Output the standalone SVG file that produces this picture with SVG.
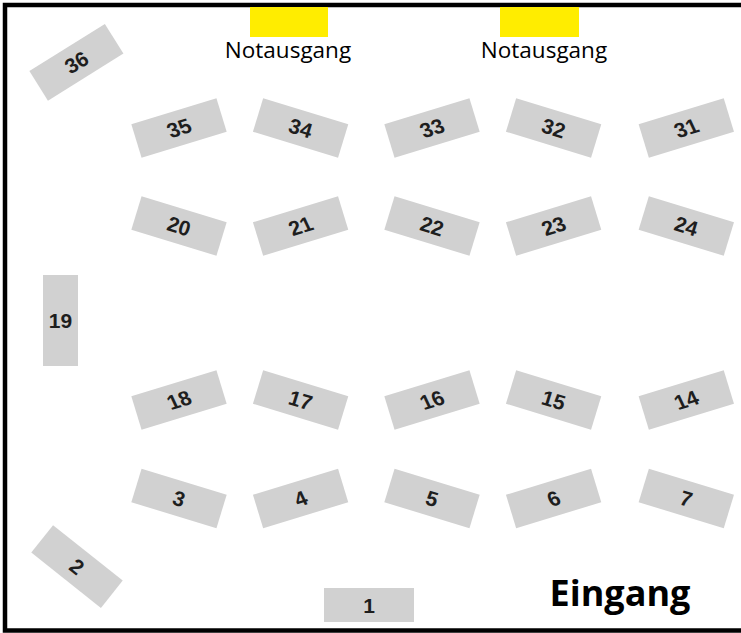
<svg xmlns="http://www.w3.org/2000/svg" width="741" height="633" viewBox="0 0 741 633">
<style>
.tb{fill:#d1d1d1}
.n{font-family:"Liberation Sans",Arial,sans-serif;font-weight:bold;font-size:21px;fill:#1e1e1e;text-anchor:middle}
.exit{fill:#ffed00}
.lbl{font-family:"Open Sans",sans-serif;font-size:22.5px;fill:#000;text-anchor:middle}
.big{font-family:"Open Sans",sans-serif;font-weight:bold;font-size:36px;fill:#000;text-anchor:middle}
</style>
<defs>
<rect id="tbl" class="tb" x="-44.5" y="-17.5" width="89" height="35"/>
</defs>
<rect x="0" y="0" width="741" height="633" fill="#fff"/>
<g id="room">
<rect x="5" y="5" width="760" height="625.5" fill="none" stroke="#000" stroke-width="4.5"/>
</g>
<g id="exits">
<g id="exit1"><rect class="exit" x="250" y="7" width="78" height="30"/><text class="lbl" x="288" y="57.5">Notausgang</text></g>
<g id="exit2"><rect class="exit" x="500" y="7" width="79" height="30"/><text class="lbl" x="544" y="57.5">Notausgang</text></g>
<g id="entrance"><text class="big" x="620" y="606">Eingang</text></g>
</g>
<g id="connectors"></g>
<g id="tables">
<g id="t36" transform="translate(76.4,62.3)"><use href="#tbl" transform="rotate(-32)"/><text class="n" y="7.5" transform="rotate(-32)">36</text></g>
<g id="t35" transform="translate(179,128)"><use href="#tbl" transform="rotate(-17)"/><text class="n" y="7.5" transform="rotate(-17) skewX(8)">35</text></g>
<g id="t34" transform="translate(300.6,128)"><use href="#tbl" transform="rotate(17)"/><text class="n" y="7.5" transform="rotate(17)">34</text></g>
<g id="t33" transform="translate(432,128)"><use href="#tbl" transform="rotate(-17)"/><text class="n" y="7.5" transform="rotate(-17) skewX(8)">33</text></g>
<g id="t32" transform="translate(553.6,128)"><use href="#tbl" transform="rotate(17)"/><text class="n" y="7.5" transform="rotate(17)">32</text></g>
<g id="t31" transform="translate(686.3,128)"><use href="#tbl" transform="rotate(-17)"/><text class="n" y="7.5" transform="rotate(-17) skewX(8)">31</text></g>
<g id="t20" transform="translate(179,226)"><use href="#tbl" transform="rotate(17)"/><text class="n" y="7.5" transform="rotate(17)">20</text></g>
<g id="t21" transform="translate(300.6,226)"><use href="#tbl" transform="rotate(-17)"/><text class="n" y="7.5" transform="rotate(-17) skewX(8)">21</text></g>
<g id="t22" transform="translate(432,226)"><use href="#tbl" transform="rotate(17)"/><text class="n" y="7.5" transform="rotate(17)">22</text></g>
<g id="t23" transform="translate(553.6,226)"><use href="#tbl" transform="rotate(-17)"/><text class="n" y="7.5" transform="rotate(-17) skewX(8)">23</text></g>
<g id="t24" transform="translate(686.3,226)"><use href="#tbl" transform="rotate(17)"/><text class="n" y="7.5" transform="rotate(17)">24</text></g>
<g id="t19" transform="translate(60.5,320.5)"><rect class="tb" x="-17.5" y="-45.5" width="35" height="91"/><text class="n" y="7.5">19</text></g>
<g id="t18" transform="translate(179,400)"><use href="#tbl" transform="rotate(-17)"/><text class="n" y="7.5" transform="rotate(-17) skewX(8)">18</text></g>
<g id="t17" transform="translate(300.6,400)"><use href="#tbl" transform="rotate(17)"/><text class="n" y="7.5" transform="rotate(17)">17</text></g>
<g id="t16" transform="translate(432,400)"><use href="#tbl" transform="rotate(-17)"/><text class="n" y="7.5" transform="rotate(-17) skewX(8)">16</text></g>
<g id="t15" transform="translate(553.6,400)"><use href="#tbl" transform="rotate(17)"/><text class="n" y="7.5" transform="rotate(17)">15</text></g>
<g id="t14" transform="translate(686.3,400)"><use href="#tbl" transform="rotate(-17)"/><text class="n" y="7.5" transform="rotate(-17) skewX(8)">14</text></g>
<g id="t3" transform="translate(179,498.5)"><use href="#tbl" transform="rotate(17)"/><text class="n" y="7.5" transform="rotate(17)">3</text></g>
<g id="t4" transform="translate(300.6,498.5)"><use href="#tbl" transform="rotate(-17)"/><text class="n" y="7.5" transform="rotate(-17) skewX(8)">4</text></g>
<g id="t5" transform="translate(432,498.5)"><use href="#tbl" transform="rotate(17)"/><text class="n" y="7.5" transform="rotate(17)">5</text></g>
<g id="t6" transform="translate(553.6,498.5)"><use href="#tbl" transform="rotate(-17)"/><text class="n" y="7.5" transform="rotate(-17) skewX(8)">6</text></g>
<g id="t7" transform="translate(686.3,498.5)"><use href="#tbl" transform="rotate(17)"/><text class="n" y="7.5" transform="rotate(17)">7</text></g>
<g id="t2" transform="translate(77,566.6)"><use href="#tbl" transform="rotate(38.5)"/><text class="n" y="7.5" transform="rotate(38.5)">2</text></g>
<g id="t1" transform="translate(369,605)"><rect class="tb" x="-45" y="-17" width="90" height="34"/><text class="n" y="7.5">1</text></g>
</g>
</svg>
